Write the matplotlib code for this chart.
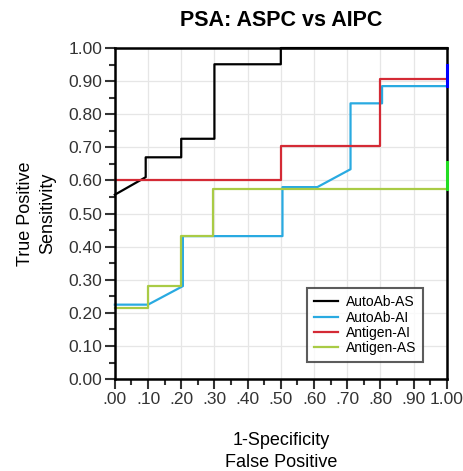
import numpy as np
import matplotlib
matplotlib.use('Agg')
import matplotlib.pyplot as plt
from matplotlib.ticker import MultipleLocator

plt.rcParams['font.family'] = ['Liberation Sans', 'DejaVu Sans']

# ROC curve points
autoab_as_x = [0, 0.093, 0.093, 0.20, 0.20, 0.30, 0.30, 0.50, 0.50, 1.0]
autoab_as_y = [0.557, 0.61, 0.67, 0.67, 0.726, 0.726, 0.951, 0.951, 1.0, 1.0]

autoab_ai_x = [0, 0.10, 0.205, 0.205, 0.505, 0.505, 0.61, 0.71, 0.71, 0.805, 0.805, 1.0]
autoab_ai_y = [0.225, 0.225, 0.281, 0.432, 0.432, 0.58, 0.58, 0.634, 0.833, 0.833, 0.885, 0.885]

antigen_ai_x = [0, 0.50, 0.50, 0.80, 0.80, 1.0]
antigen_ai_y = [0.60, 0.60, 0.704, 0.704, 0.906, 0.906]

antigen_as_x = [0, 0.10, 0.10, 0.198, 0.198, 0.297, 0.297, 1.0]
antigen_as_y = [0.215, 0.215, 0.281, 0.281, 0.432, 0.432, 0.575, 0.575]

# short pieces visible on the right border
edge_blue_y = [0.885, 0.95]
edge_green_y = [0.575, 0.656]

xticks = np.round(np.arange(0, 1.01, 0.1), 2)
xtick_labels = ['.00', '.10', '.20', '.30', '.40', '.50', '.60', '.70', '.80', '.90', '1.00']
ytick_labels = ['%.2f' % v for v in xticks]

fig = plt.figure(figsize=(4.63, 4.71), dpi=100)
ax = fig.add_axes([0.248, 0.195, 0.717, 0.703])

lw = 1.6
ax.plot(autoab_as_x, autoab_as_y, color='black', lw=lw, label='AutoAb-AS', clip_on=False, zorder=3)
ax.plot(autoab_ai_x, autoab_ai_y, color='#29AAE1', lw=lw, label='AutoAb-AI', clip_on=False, zorder=3)
ax.plot(antigen_ai_x, antigen_ai_y, color='#D42A35', lw=lw, label='Antigen-AI', clip_on=False, zorder=3)
ax.plot(antigen_as_x, antigen_as_y, color='#A9CB45', lw=lw, label='Antigen-AS', clip_on=False, zorder=3)
ax.plot([1, 1], edge_blue_y, color='#0000FF', lw=2.2, clip_on=False, zorder=6)
ax.plot([1, 1], edge_green_y, color='#22DD22', lw=2.2, clip_on=False, zorder=6)

ax.set_xlim(0, 1)
ax.set_ylim(0, 1)
ax.set_xticks(xticks)
ax.set_xticklabels(xtick_labels)
ax.set_yticks(xticks)
ax.set_yticklabels(ytick_labels)
ax.xaxis.set_minor_locator(MultipleLocator(0.05))
ax.yaxis.set_minor_locator(MultipleLocator(0.05))
ax.tick_params(which='major', direction='out', length=7, width=1.5, labelsize=12.5, colors='#333333')
ax.tick_params(which='minor', direction='out', length=4, width=1.5, colors='#333333')
ax.tick_params(axis='x', pad=2)
ax.tick_params(axis='y', pad=2)
ax.grid(True, which='major', color='#E6E6E6', lw=0.9, zorder=0)
ax.set_axisbelow(True)

for sp in ax.spines.values():
    sp.set_linewidth(1.8)
    sp.set_zorder(5)

ax.set_title('PSA: ASPC vs AIPC', fontsize=15.5, fontweight='bold', pad=16)
ax.set_xlabel('1-Specificity\nFalse Positive', fontsize=13, labelpad=18, linespacing=1.4)
ax.set_ylabel('True Positive\nSensitivity', fontsize=13, labelpad=9, linespacing=1.4)

leg = ax.legend(loc='lower right', bbox_to_anchor=(0.95, 0.03), fontsize=10, frameon=True,
                fancybox=False, edgecolor='#333333', handlelength=1.7, borderpad=0.5,
                labelspacing=0.1, handletextpad=0.6)
leg.get_frame().set_linewidth(1.5)

fig.savefig('out.png', dpi=100)
